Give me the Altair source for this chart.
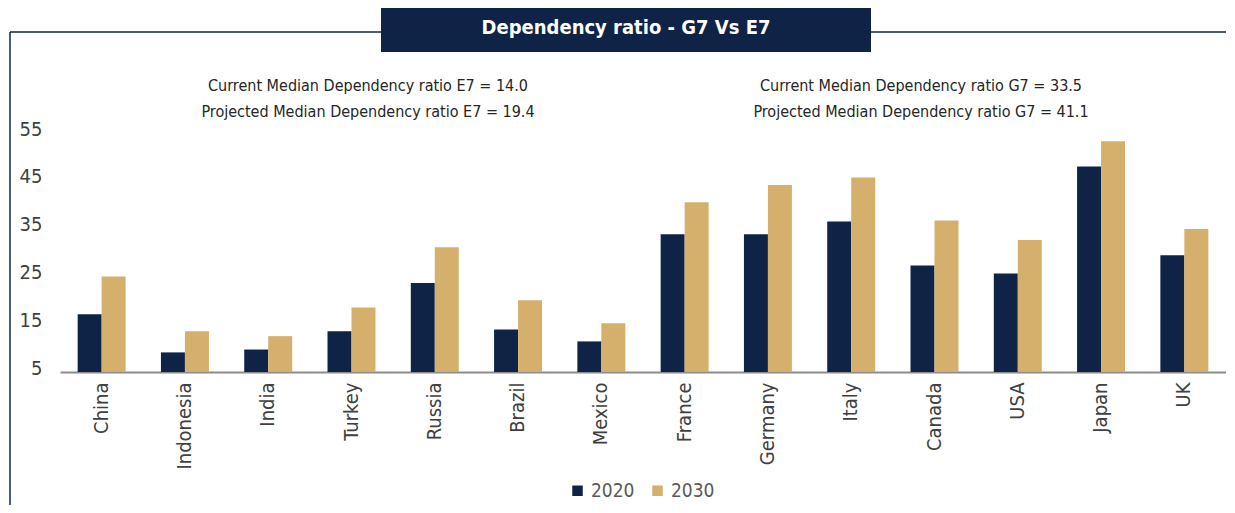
import altair as alt
import pandas as pd

countries = ["China", "Indonesia", "India", "Turkey", "Russia", "Brazil", "Mexico",
             "France", "Germany", "Italy", "Canada", "USA", "Japan", "UK"]
values_2020 = [17.1, 9.1, 9.7, 13.5, 23.6, 13.9, 11.4, 33.8, 33.8, 36.5, 27.3, 25.6, 48.0, 29.4]
values_2030 = [25.0, 13.5, 12.5, 18.5, 31.1, 20.0, 15.2, 40.5, 44.1, 45.7, 36.7, 32.6, 53.3, 34.9]
years = ["2020", "2030"]
y_ticks = [5, 15, 25, 35, 45, 55]
title_text = "Dependency ratio - G7 Vs E7"
e7_lines = ["Current Median Dependency ratio E7 = 14.0",
            "Projected Median Dependency ratio E7 = 19.4"]
g7_lines = ["Current Median Dependency ratio G7 = 33.5",
            "Projected Median Dependency ratio G7 = 41.1"]

rows = []
for c, a, b in zip(countries, values_2020, values_2030):
    rows.append({"country": c, "year": years[0], "value": a})
    rows.append({"country": c, "year": years[1], "value": b})
df = pd.DataFrame(rows)

FONT = "DejaVu Sans Condensed, sans-serif"
NAVY = "#0f2347"
GOLD = "#d4b06c"
one = pd.DataFrame({"k": [0]})

bars = alt.Chart(df).mark_bar().encode(
    x=alt.X("country:N", sort=countries,
            scale=alt.Scale(paddingInner=0.424, paddingOuter=0.212),
            axis=alt.Axis(title=None, labelAngle=-90, labelFontSize=20, labelFont=FONT,
                          labelColor="#404040", ticks=False, tickSize=0, domainColor="#8c8c8c",
                          domainWidth=2, labelPadding=10)),
    xOffset=alt.XOffset("year:N", sort=years, scale=alt.Scale(paddingInner=0, paddingOuter=0)),
    y=alt.Y("value:Q", scale=alt.Scale(domain=[5, 55], nice=False, zero=False),
            axis=alt.Axis(values=y_ticks, title=None, grid=False, domain=False, ticks=False,
                          tickSize=0, labelPadding=18, labelFontSize=20, labelFont=FONT,
                          labelColor="#404040", labelOffset=-4)),
    y2=alt.datum(5),
    color=alt.Color("year:N", sort=years,
                    scale=alt.Scale(domain=years, range=[NAVY, GOLD]),
                    legend=alt.Legend(title=None, orient="none", legendX=508, legendY=348,
                                      direction="horizontal", symbolType="square",
                                      symbolSize=110, labelFontSize=19, labelFont=FONT,
                                      labelColor="#595959", columnPadding=13, labelOffset=4,
                                      symbolStrokeWidth=0)),
)

top_line = alt.Chart(one).mark_rule(color=NAVY, strokeWidth=1.5).encode(
    x=alt.value(-50), x2=alt.value(1200), y=alt.value(-101))
left_line = alt.Chart(one).mark_rule(color=NAVY, strokeWidth=1.5).encode(
    x=alt.value(-50), y=alt.value(-101), y2=alt.value(380))
title_box = alt.Chart(one).mark_rect(color=NAVY).encode(
    x=alt.value(321), x2=alt.value(811), y=alt.value(-125), y2=alt.value(-81))
title = alt.Chart(one).mark_text(color="white", font=FONT, fontSize=20, fontWeight="bold",
                                 align="center", baseline="middle").encode(
    x=alt.value(566), y=alt.value(-105), text=alt.value(title_text))

ann = []
for lines, xc in ((e7_lines, 308), (g7_lines, 861)):
    for i, ln in enumerate(lines):
        ann.append(alt.Chart(one).mark_text(color="#262626", font=FONT, fontSize=16,
                                            align="center", baseline="middle").encode(
            x=alt.value(xc), y=alt.value(-47 + 26 * i), text=alt.value(ln)))

chart = alt.layer(top_line, left_line, title_box, title, *ann, bars).properties(
    width=1166, height=239,
    autosize=alt.AutoSizeParams(type="none"),
    padding={"left": 52, "top": 125, "right": 0, "bottom": 133},
).configure_view(stroke=None)

chart.save("out.html", embed_options={"renderer": "svg", "actions": False})
